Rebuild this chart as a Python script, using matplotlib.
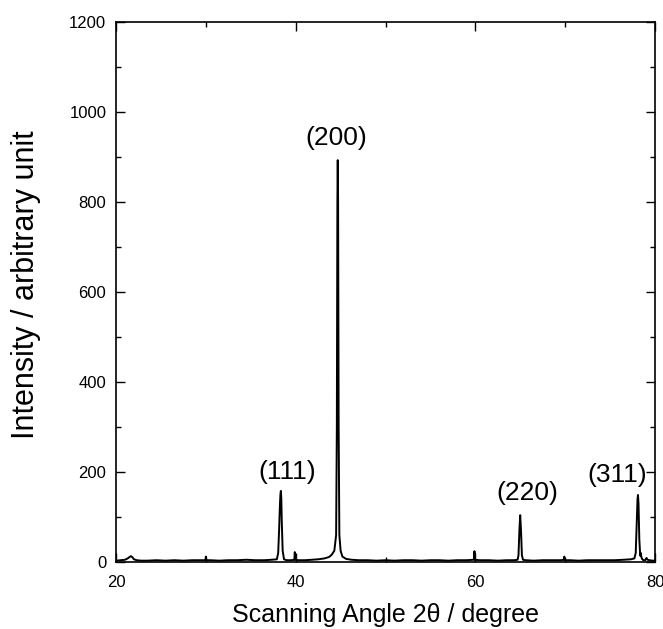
import matplotlib
matplotlib.use('Agg')
import matplotlib.pyplot as plt
from matplotlib.ticker import MultipleLocator

plt.rcParams['font.family'] = ['Liberation Sans', 'DejaVu Sans']

# XRD scan, 2theta (degree) vs intensity
two_theta = [20.0, 20.5, 21.0, 21.3, 21.5, 21.65, 21.8, 22.0, 22.3, 22.8, 23.5, 24.5, 25.5,
             26.5, 27.5, 28.5, 29.5, 29.95, 30.0, 30.05, 30.5, 31.5, 32.5, 33.5, 34.5, 35.5,
             36.5, 37.3, 37.9, 38.05, 38.15, 38.25, 38.3, 38.35, 38.4, 38.45, 38.55, 38.7,
             39.0, 39.5, 39.85, 39.9, 39.95, 40.3, 41.0, 41.8, 42.5, 43.2, 43.7, 44.0, 44.3,
             44.5, 44.58, 44.64, 44.68, 44.72, 44.78, 44.86, 45.0, 45.2, 45.6, 46.2, 47.0,
             48.0, 49.0, 50.0, 51.0, 52.0, 53.0, 54.0, 55.0, 56.0, 57.0, 58.0, 59.0, 59.85,
             59.9, 59.95, 60.5, 61.5, 62.5, 63.5, 64.3, 64.7, 64.8, 64.9, 64.99, 65.08, 65.18,
             65.3, 65.6, 66.5, 67.5, 68.5, 69.5, 69.85, 69.9, 69.95, 70.5, 71.5, 72.5, 73.5,
             74.5, 75.5, 76.5, 77.3, 77.7, 77.85, 77.95, 78.05, 78.1, 78.16, 78.25, 78.35,
             78.42, 78.47, 78.55, 78.7, 78.9, 79.05, 79.15, 79.4, 79.7, 80.0]
intensity = [3, 4, 5, 8, 11, 13, 11, 6, 4, 3, 3, 4, 3,
             4, 3, 4, 4, 4, 12, 4, 4, 3, 4, 4, 5, 4,
             4, 5, 6, 20, 70, 130, 150, 158, 140, 90, 25, 6,
             4, 4, 5, 22, 5, 4, 4, 5, 6, 8, 11, 16, 25,
             60, 300, 800, 893, 800, 300, 60, 25, 12, 7, 5, 4,
             4, 3, 4, 3, 4, 4, 3, 4, 4, 3, 4, 4, 5,
             24, 5, 4, 4, 3, 4, 4, 5, 15, 70, 104, 70, 15,
             5, 4, 3, 4, 4, 4, 5, 12, 4, 4, 3, 4, 4,
             4, 4, 5, 6, 8, 20, 80, 140, 149, 130, 50, 14,
             20, 12, 7, 4, 4, 9, 5, 4, 3, 3]

# Miller index labels and where they sit
peak_labels = ['(111)', '(200)', '(220)', '(311)']
label_x = [39.0, 44.5, 65.8, 75.8]
label_y = [200, 942, 153, 193]

fig = plt.figure(figsize=(6.63, 6.29), dpi=100)
ax = fig.add_axes([0.175, 0.1065, 0.813, 0.8585])

ax.plot(two_theta, intensity, color='black', lw=1.4)

for txt, lx, ly in zip(peak_labels, label_x, label_y):
    ax.text(lx, ly, txt, fontsize=19, ha='center', va='center')

ax.set_xlim(20, 80)
ax.set_ylim(0, 1200)
ax.xaxis.set_major_locator(MultipleLocator(20))
ax.xaxis.set_minor_locator(MultipleLocator(10))
ax.yaxis.set_major_locator(MultipleLocator(200))
ax.yaxis.set_minor_locator(MultipleLocator(100))
ax.tick_params(which='both', direction='in', top=True, right=True, labelsize=12, width=1.0)
ax.tick_params(which='major', length=6.5)
ax.tick_params(which='minor', length=3.5)
ax.tick_params(axis='x', which='major', pad=9)
ax.tick_params(axis='y', which='major', pad=7)
for sp in ax.spines.values():
    sp.set_linewidth(1.2)

ax.set_xlabel('Scanning Angle 2\u03b8 / degree', fontsize=18, labelpad=10)
ax.set_ylabel('Intensity / arbitrary unit', fontsize=22)
ax.yaxis.set_label_coords(-0.14, 0.514)

fig.savefig('out.png', dpi=100)
